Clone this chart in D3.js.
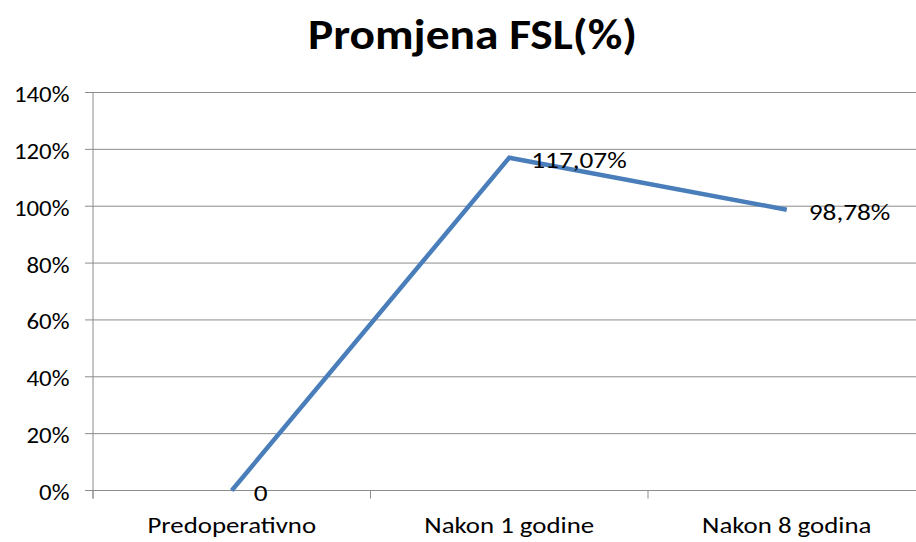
<!DOCTYPE html>
<html>
<head>
<meta charset="utf-8">
<script src="https://cdn.jsdelivr.net/npm/d3@7"></script>
<style>
  html, body { margin: 0; padding: 0; background: #fff; }
  svg { display: block; }
  text { font-family: Calibri, Carlito, Lato, "Open Sans", sans-serif; fill: #000; }
</style>
</head>
<body>
<svg id="chart" width="916" height="542"></svg>
<script>
// Chart data
const categories = ["Predoperativno", "Nakon 1 godine", "Nakon 8 godina"];
const values = [0, 1.1707, 0.9878];
const valueLabels = ["0", "117,07%", "98,78%"];
const yTicks = [0, 0.2, 0.4, 0.6, 0.8, 1.0, 1.2, 1.4];
const titleText = "Promjena FSL(%)";

const svg = d3.select("#chart");
const W = 916, H = 542;
const plot = { left: 93, right: 925.5, top: 92.5, bottom: 490.5 };

const x = d3.scaleBand().domain(categories).range([plot.left, plot.right]).padding(0);
const y = d3.scaleLinear().domain([0, 1.4]).range([plot.bottom, plot.top]);

const gridColor = "#8c8c8c";
const fmtPct = d => Math.round(d * 100) + "%";

// Widen glyphs horizontally by factor k (the text face is set slightly wide)
function widen(sel, k) {
  sel.each(function () {
    const w = this.getComputedTextLength();
    this.setAttribute("textLength", w * k);
    this.setAttribute("lengthAdjust", "spacingAndGlyphs");
  });
}

// Title
svg.append("text")
  .attr("x", 472.5).attr("y", 49)
  .attr("text-anchor", "middle")
  .style("font-size", "43px").style("font-weight", "bold")
  .text(titleText)
  .attr("textLength", 329)
  .attr("lengthAdjust", "spacingAndGlyphs");

// Horizontal gridlines
svg.append("g").selectAll("line").data(yTicks).join("line")
  .attr("x1", plot.left - 8).attr("x2", W)
  .attr("y1", d => y(d)).attr("y2", d => y(d))
  .attr("stroke", gridColor).attr("stroke-width", 1);

// Value axis labels
const yLabels = svg.append("g").selectAll("text").data(yTicks).join("text")
  .attr("x", 69.5)
  .attr("y", d => y(d) + 9.5)
  .attr("text-anchor", "end")
  .style("font-size", "22px")
  .text(fmtPct);
widen(yLabels, 1.13);

// Vertical axis line
svg.append("line")
  .attr("x1", plot.left).attr("x2", plot.left)
  .attr("y1", plot.top).attr("y2", plot.bottom + 8)
  .attr("stroke", gridColor);

// Category axis: ticks at band boundaries, labels at band centres
const boundaries = categories.map(c => x(c)).concat([x(categories[categories.length - 1]) + x.bandwidth()]);
svg.append("g").selectAll("line").data(boundaries).join("line")
  .attr("x1", d => d).attr("x2", d => d)
  .attr("y1", plot.bottom).attr("y2", plot.bottom + 8)
  .attr("stroke", gridColor);

const xLabels = svg.append("g").selectAll("text").data(categories).join("text")
  .attr("x", d => x(d) + x.bandwidth() / 2)
  .attr("y", 532.5)
  .attr("text-anchor", "middle")
  .style("font-size", "22px")
  .text(d => d);
widen(xLabels, 1.22);

// Series line
const pts = categories.map((c, i) => ({ c, v: values[i], label: valueLabels[i] }));
const line = d3.line().x(d => x(d.c) + x.bandwidth() / 2).y(d => y(d.v));
svg.append("path")
  .datum(pts)
  .attr("d", line)
  .attr("fill", "none")
  .attr("stroke", "#4a7ebb")
  .attr("stroke-width", 4.5)
  .attr("stroke-linejoin", "miter");

// Data labels to the right of each point
const dLabels = svg.append("g").selectAll("text").data(pts).join("text")
  .attr("x", d => x(d.c) + x.bandwidth() / 2 + 22)
  .attr("y", d => y(d.v) + 10)
  .style("font-size", "22px")
  .text(d => d.label);
widen(dLabels, 1.24);
</script>
</body>
</html>
